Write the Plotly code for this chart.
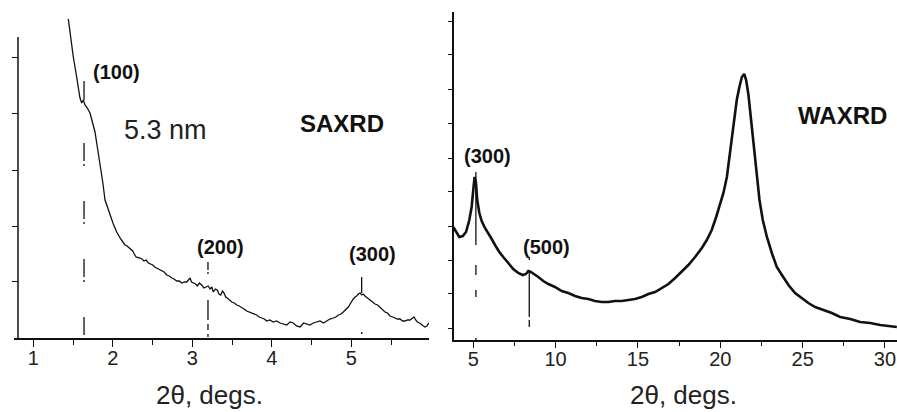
import plotly.graph_objects as go

W, H = 897, 412

# ---------------- data (intensity in arbitrary units) ----------------
saxs_x = [1.440, 1.470, 1.503, 1.537, 1.566, 1.587, 1.609, 1.629, 1.650, 1.679,
          1.713, 1.747, 1.776, 1.805, 1.839, 1.873, 1.902, 1.931, 1.965, 2.006,
          2.049, 2.099, 2.153, 2.180, 2.208, 2.250, 2.270, 2.292, 2.342, 2.367,
          2.392, 2.420, 2.447, 2.475, 2.502, 2.527, 2.552, 2.585, 2.615, 2.645,
          2.678, 2.710, 2.741, 2.770, 2.804, 2.835, 2.867, 2.900, 2.930, 2.950,
          2.971, 2.990, 3.013, 3.040, 3.063, 3.090, 3.118, 3.145, 3.172, 3.200,
          3.223, 3.245, 3.264, 3.290, 3.314, 3.335, 3.357, 3.380, 3.399, 3.420,
          3.440, 3.470, 3.496, 3.530, 3.558, 3.590, 3.621, 3.650, 3.684, 3.715,
          3.747, 3.780, 3.810, 3.840, 3.873, 3.905, 3.936, 3.975, 4.019, 4.060,
          4.103, 4.145, 4.187, 4.230, 4.270, 4.310, 4.355, 4.400, 4.439, 4.480,
          4.522, 4.565, 4.606, 4.650, 4.690, 4.730, 4.774, 4.805, 4.837, 4.870,
          4.899, 4.930, 4.962, 4.985, 5.005, 5.025, 5.047, 5.068, 5.088, 5.110,
          5.131, 5.150, 5.172, 5.200, 5.235, 5.265, 5.298, 5.330, 5.361, 5.392,
          5.424, 5.455, 5.487, 5.520, 5.550, 5.580, 5.613, 5.645, 5.676, 5.705,
          5.738, 5.765, 5.789, 5.810, 5.830, 5.860, 5.885, 5.905, 5.927, 5.950,
          5.977]
saxs_y = [319, 298, 281, 265, 251, 240, 235, 238, 233, 230,
          225, 216, 206, 191, 175, 156, 138, 131, 123, 114,
          106, 99, 93, 92, 90, 87, 84, 81, 80, 79,
          77, 78, 75, 74, 73, 71, 70, 69, 67, 66,
          63, 62, 60, 59, 57, 57, 55, 56, 56, 58,
          60, 56, 55, 54, 52, 55, 53, 50, 51, 52,
          49, 51, 46, 49, 48, 44, 43, 47, 45, 41,
          40, 38, 36, 35, 33, 32, 30, 29, 27, 26,
          25, 24, 23, 21, 20, 19, 17, 18, 16, 17,
          15, 14, 13, 16, 15, 12, 11, 15, 14, 13,
          15, 16, 17, 15, 17, 19, 20, 21, 23, 24,
          26, 28, 31, 34, 37, 39, 41, 42, 44, 45,
          43, 44, 42, 40, 38, 36, 34, 33, 31, 29,
          26, 25, 22, 21, 20, 19, 19, 17, 17, 18,
          18, 20, 21, 18, 16, 15, 13, 12, 11, 12,
          15]

waxs_x = [3.785, 3.95, 4.15, 4.36, 4.56, 4.76, 4.90, 5.00, 5.08, 5.16,
          5.24, 5.37, 5.51, 5.71, 5.91, 6.12, 6.32, 6.58, 6.82, 7.13,
          7.43, 7.73, 8.00, 8.20, 8.34, 8.49, 8.69, 8.95, 9.25, 9.56,
          9.96, 10.37, 10.77, 11.18, 11.58, 11.99, 12.39, 12.80, 13.20, 13.61,
          14.02, 14.42, 14.82, 15.23, 15.63, 16.04, 16.45, 16.85, 17.26, 17.66,
          18.06, 18.47, 18.88, 19.18, 19.48, 19.75, 19.99, 20.19, 20.40, 20.60,
          20.80, 21.00, 21.16, 21.31, 21.45, 21.57, 21.71, 21.85, 22.01, 22.18,
          22.38, 22.58, 22.83, 23.13, 23.43, 23.74, 24.14, 24.54, 24.95, 25.35,
          25.76, 26.26, 26.77, 27.28, 27.89, 28.49, 29.10, 29.71, 30.21, 30.72]
waxs_y = [113, 109, 103, 104, 108, 120, 133, 150, 163, 158,
          140, 127, 119, 112, 107, 101, 95, 88, 83, 77,
          71, 67, 65, 66, 69, 68, 66, 63, 59, 56,
          53, 49, 47, 44, 42, 41, 39, 38, 38, 39,
          39, 40, 41, 43, 46, 48, 52, 56, 62, 68,
          75, 83, 92, 100, 110, 123, 137, 147, 163, 187,
          213, 240, 253, 263, 266, 260, 245, 223, 197, 167,
          140, 120, 103, 87, 73, 65, 55, 47, 42, 37,
          33, 30, 27, 23, 21, 18, 17, 15, 14, 13]

saxs_ticks_x = [1, 2, 3, 4, 5]
saxs_minor_x = [1.5, 2.5, 3.5, 4.5, 5.5]
saxs_ticks_y = [57, 112, 168, 225, 281]
waxs_ticks_x = [5, 10, 15, 20, 25, 30]
waxs_minor_x = [7.5, 12.5, 17.5, 22.5, 27.5]
waxs_ticks_y = [12, 47, 80, 114, 149, 182, 217, 251, 286, 319]

saxs_peaks = ["(100)", "(200)", "(300)"]
saxs_peak_x = [1.638, 3.197, 5.13]
waxs_peaks = ["(300)", "(500)"]
waxs_peak_x = [5.16, 8.4]

# ---------------- figure ----------------
def px(x):
    return x / W

def py(y):
    return 1 - y / H

fig = go.Figure()
line_col = "#111111"

fig.add_trace(go.Scatter(x=saxs_x, y=saxs_y, mode="lines",
                         line=dict(color=line_col, width=1.3), xaxis="x", yaxis="y",
                         showlegend=False, hoverinfo="skip"))
fig.add_trace(go.Scatter(x=waxs_x, y=waxs_y, mode="lines",
                         line=dict(color=line_col, width=2.6), xaxis="x2", yaxis="y2",
                         showlegend=False, hoverinfo="skip"))

# peak marker lines
marks = [
    ("x", "y", saxs_peak_x[0], 257, 238, "solid", 1.3),
    ("x", "y", saxs_peak_x[0], 195, 0, "18px,3px,2px,35px", 1.3),
    ("x", "y", saxs_peak_x[1], 76, 0, "8px,2px,2px,26px,20px,4px,6px,4px,3px", 1.3),
    ("x", "y", saxs_peak_x[2], 61, 45, "solid", 1.3),
    ("x", "y", saxs_peak_x[2], 6, 4, "solid", 1.3),
    ("x2", "y2", waxs_peak_x[0], 168, 95, "solid", 1.3),
    ("x2", "y2", waxs_peak_x[0], 75, 0, "10px,15px,7px,41px,5px", 1.3),
    ("x2", "y2", waxs_peak_x[1], 83, 13, "3px,10px,47px,3px,7px,100px", 1.3),
]
for xa, ya, xv, y0, y1, dash, wd in marks:
    fig.add_trace(go.Scatter(x=[xv, xv], y=[y0, y1], mode="lines",
                             line=dict(color=line_col, width=wd, dash=dash),
                             xaxis=xa, yaxis=ya, showlegend=False, hoverinfo="skip"))

tick_font = dict(family="Liberation Sans, Arial, sans-serif", size=20, color="#222222")

fig.update_layout(
    width=W, height=H,
    margin=dict(l=0, r=0, t=0, b=0),
    paper_bgcolor="white", plot_bgcolor="white",
    showlegend=False,
    xaxis=dict(domain=[px(14), px(429)], range=[0.757, 5.977], anchor="y",
               showgrid=False, zeroline=False, showline=True, linecolor=line_col, linewidth=1.5,
               tickmode="array", tickvals=saxs_ticks_x, ticktext=[str(v) for v in saxs_ticks_x],
               ticks="outside", ticklen=7, tickwidth=1.3, tickcolor=line_col,
               ticklabelstandoff=-6,
               minor=dict(tickmode="array", tickvals=saxs_minor_x, ticks="outside",
                          ticklen=5, tickwidth=1.3, tickcolor=line_col),
               tickfont=tick_font),
    yaxis=dict(domain=[py(338), py(19)], range=[0, 319], anchor="free", position=px(18),
               showgrid=False, zeroline=False, showline=False,
               tickmode="array", tickvals=saxs_ticks_y, showticklabels=False,
               ticks="outside", ticklen=6, tickwidth=1.3, tickcolor=line_col),
    xaxis2=dict(domain=[px(454), 1.0], range=[3.83, 30.73], anchor="y2",
                showgrid=False, zeroline=False, showline=True, linecolor=line_col, linewidth=1.5,
                tickmode="array", tickvals=waxs_ticks_x, ticktext=[str(v) for v in waxs_ticks_x],
                ticks="outside", ticklen=6, tickwidth=1.3, tickcolor=line_col,
                ticklabelstandoff=-6,
                minor=dict(tickmode="array", tickvals=waxs_minor_x, ticks="outside",
                           ticklen=4, tickwidth=1.3, tickcolor=line_col),
                tickfont=tick_font),
    yaxis2=dict(domain=[py(340), py(12)], range=[0, 328], anchor="x2",
                showgrid=False, zeroline=False, showline=True, linecolor=line_col, linewidth=1.5,
                tickmode="array", tickvals=waxs_ticks_y, showticklabels=False,
                ticks="outside", ticklen=4, tickwidth=1.3, tickcolor=line_col),
)

# left y-axis line (shorter than the plot area)
fig.add_shape(type="line", xref="paper", yref="y", x0=px(18), x1=px(18), y0=0, y1=301,
              line=dict(color=line_col, width=1.5))

txt = "Liberation Sans, Arial, sans-serif"
ann = [
    (116.7, 72, "<b>" + saxs_peaks[0] + "</b>", 20, "#111111"),
    (220, 247, "<b>" + saxs_peaks[1] + "</b>", 20, "#111111"),
    (372, 254, "<b>" + saxs_peaks[2] + "</b>", 20, "#111111"),
    (165.7, 130, "5.3 nm", 27, "#222222"),
    (342, 124, "<b>SAXRD</b>", 24, "#111111"),
    (487.5, 156, "<b>" + waxs_peaks[0] + "</b>", 20, "#111111"),
    (546.7, 247, "<b>" + waxs_peaks[1] + "</b>", 20, "#111111"),
    (842, 115, "<b>WAXRD</b>", 24, "#111111"),
    (209, 395, "2θ, degs.", 26, "#222222"),
    (683, 395, "2θ, degs.", 26, "#222222"),
]
for x, y, t, s, c in ann:
    fig.add_annotation(x=px(x), y=py(y), xref="paper", yref="paper", text=t,
                       showarrow=False, xanchor="center", yanchor="middle",
                       font=dict(family=txt, size=s, color=c))

fig.write_html("out.html", config={"displayModeBar": False},
               post_script="document.body.style.margin='0';")
